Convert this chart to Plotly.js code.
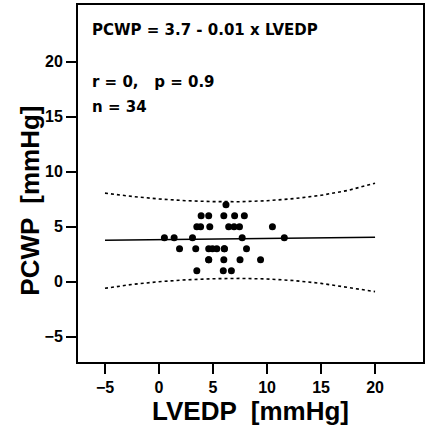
<!DOCTYPE html>
<html>
<head>
<meta charset="utf-8">
<script src="https://cdn.plot.ly/plotly-3.0.1.min.js"></script>
<style>html,body{margin:0;padding:0;background:#fff;}#chart{width:425px;height:427px;}</style>
</head>
<body>
<div id="chart"></div>
<script>
// Data
const lvedp = [6.2, 3.9, 4.6, 6.0, 7.0, 7.9, 3.5, 3.85, 4.7, 6.45, 6.95, 7.45, 10.5,
               0.5, 1.4, 3.1, 7.7, 11.6, 1.9, 3.4, 4.6, 4.95, 5.35, 6.05, 8.1,
               4.6, 6.0, 7.5, 9.4, 3.5, 5.95, 6.7, 6.05, 4.6];
const pcwp  = [7, 6, 6, 6, 6, 6, 5, 5, 5, 5, 5, 5, 5,
               4, 4, 4, 4, 4, 3, 3, 3, 3, 3, 3, 3,
               2, 2, 2, 2, 1, 1, 1, 3, 2];
const fitX = [-5, 20];
const fitY = [3.76, 4.04];
const bandX = [-5, -2.5, 0, 2.5, 5, 7.5, 10, 12.5, 15, 17.5, 20];
const bandUpper = [8.05, 7.75, 7.52, 7.36, 7.28, 7.27, 7.36, 7.55, 7.85, 8.3, 8.95];
const bandLower = [-0.6, -0.25, 0.0, 0.17, 0.27, 0.3, 0.25, 0.1, -0.15, -0.5, -0.9];
const xTicks = [-5, 0, 5, 10, 15, 20];
const yTicks = [-5, 0, 5, 10, 15, 20];
const statLines = ["PCWP = 3.7 - 0.01 x LVEDP", "r = 0,   p = 0.9", "n = 34"];
const xTitle = "LVEDP  [mmHg]";
const yTitle = "PCWP  [mmHg]";

const FONT = "Liberation Sans, Arial, Helvetica, sans-serif";
const WIDE = "DejaVu Sans, Liberation Sans, sans-serif";

const traces = [
  {x: bandX, y: bandUpper, mode: 'lines', line: {color: '#000', width: 1.6, dash: 'dot'}, hoverinfo: 'skip'},
  {x: bandX, y: bandLower, mode: 'lines', line: {color: '#000', width: 1.6, dash: 'dot'}, hoverinfo: 'skip'},
  {x: fitX, y: fitY, mode: 'lines', line: {color: '#000', width: 1.6}},
  {x: lvedp, y: pcwp, mode: 'markers', marker: {color: '#000', size: 7}}
];

const tickText = v => v < 0 ? '\u2212' + Math.abs(v) : String(v);

const layout = {
  width: 425, height: 427,
  margin: {l: 78, r: 2, t: 5, b: 65},
  showlegend: false,
  paper_bgcolor: '#fff', plot_bgcolor: '#fff',
  font: {family: FONT, color: '#000'},
  xaxis: {
    range: [-7.5, 24.44], tickvals: xTicks, ticktext: xTicks.map(tickText),
    showgrid: false, zeroline: false, showline: true, linecolor: '#000', linewidth: 2, mirror: true,
    ticks: 'outside', ticklen: 10, tickwidth: 2, tickcolor: '#000',
    tickfont: {size: 16, weight: 'bold', family: FONT},
    title: {text: xTitle, font: {size: 26, weight: 'bold', family: FONT}, standoff: 4}
  },
  yaxis: {
    range: [-7.3, 25.15], tickvals: yTicks, ticktext: yTicks.map(tickText),
    showgrid: false, zeroline: false, showline: true, linecolor: '#000', linewidth: 2, mirror: true,
    ticks: 'outside', ticklen: 10, tickwidth: 2, tickcolor: '#000',
    tickfont: {size: 16, weight: 'bold', family: FONT}
  },
  annotations: [
    {x: -0.139, y: 0.452, xref: 'paper', yref: 'paper', text: yTitle, textangle: -90, showarrow: false,
     xanchor: 'center', yanchor: 'middle', font: {size: 26, weight: 'bold', family: FONT}},
    {x: -6.4, y: 22.9, xref: 'x', yref: 'y', text: statLines[0], showarrow: false, xanchor: 'left', yanchor: 'middle', font: {size: 15, weight: 'bold', family: WIDE}},
    {x: -6.4, y: 18.15, xref: 'x', yref: 'y', text: statLines[1], showarrow: false, xanchor: 'left', yanchor: 'middle', font: {size: 15, weight: 'bold', family: WIDE}},
    {x: -6.4, y: 15.9, xref: 'x', yref: 'y', text: statLines[2], showarrow: false, xanchor: 'left', yanchor: 'middle', font: {size: 15, weight: 'bold', family: WIDE}}
  ]
};

Plotly.newPlot('chart', traces, layout, {staticPlot: true, displayModeBar: false});
</script>
</body>
</html>
